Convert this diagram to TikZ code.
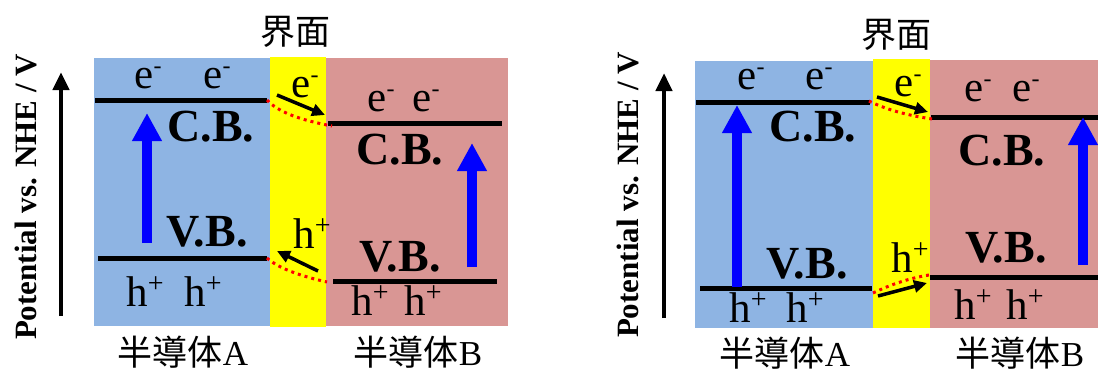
\documentclass[tikz,border=0pt]{standalone}
\usepackage{fontspec}
\setmainfont{Liberation Serif}
\newfontfamily\jpfont{Noto Sans CJK JP}
\usetikzlibrary{arrows.meta}
\definecolor{blueA}{HTML}{8EB4E3}
\definecolor{pinkB}{HTML}{D99694}
\definecolor{yellowI}{HTML}{FFFF00}
\newcommand\elecsym{e\raisebox{14.5pt}{\fontsize{24}{24}\selectfont -}}
\newcommand\holesym{h\raisebox{14pt}{\fontsize{28}{28}\selectfont +}}
\newcommand\semisym[1]{{\jpfont 半導体}#1}
\tikzset{
  band/.style={line width=5pt},
  carrier/.style={inner sep=0pt, font=\fontsize{43}{43}\selectfont},
  bandlbl/.style={inner sep=0pt, font=\fontsize{46}{46}\selectfont\bfseries},
  jplbl/.style={inner sep=0pt, font=\fontsize{35}{35}\selectfont},
  axislbl/.style={inner sep=0pt, rotate=90, font=\fontsize{31}{31}\selectfont\bfseries},
  excite/.style={blue, line width=10pt, -{Triangle[width=28pt,length=28pt]}},
  axis/.style={line width=4.5pt, -{Triangle[width=16pt,length=18pt]}},
  transfer/.style={line width=3.5pt, -{Triangle[width=12pt,length=13pt]}},
  bendline/.style={red, line width=3pt, dash pattern=on 3pt off 4pt},
}
\begin{document}
\begin{tikzpicture}[x=1pt,y=-1pt]
\useasboundingbox (0,0) rectangle (1098,370);
% ================= left diagram =================
\fill[blueA] (94,58) rectangle (270,326);
\fill[pinkB] (326,58) rectangle (508,326);
\fill[yellowI] (270,57) rectangle (326,327);
\node[jplbl] (ifL) at (295,32) {\jpfont 界面};
\node[jplbl] (sAL) at (183,352) {\semisym{A}};
\node[jplbl] (sBL) at (418,352) {\semisym{B}};
\node[axislbl] (potL) at (26,197) {Potential vs. NHE / V};
\coordinate (axL0) at (61,316); \coordinate (axL1) at (61,72);
\draw[axis] (axL0) -- (axL1);
% bands
\coordinate (cbAL0) at (95,100); \coordinate (cbAL1) at (267,100);
\coordinate (vbAL0) at (98,258); \coordinate (vbAL1) at (267,258);
\coordinate (cbBL0) at (328,123); \coordinate (cbBL1) at (502,123);
\coordinate (vbBL0) at (333,281); \coordinate (vbBL1) at (497,281);
\draw[band] (cbAL0) -- (cbAL1);
\draw[band] (vbAL0) -- (vbAL1);
\draw[band] (cbBL0) -- (cbBL1);
\draw[band] (vbBL0) -- (vbBL1);
\node[bandlbl] (cbAl) at (211,127) {C.B.};
\node[bandlbl] (vbAl) at (207,232) {V.B.};
\node[bandlbl] (cbBl) at (400,150) {C.B.};
\node[bandlbl] (vbBl) at (400,257) {V.B.};
\node[carrier] (eL1) at (148,78) {\elecsym};
\node[carrier] (eL2) at (217,78) {\elecsym};
\node[carrier] (eL3) at (381,101) {\elecsym};
\node[carrier] (eL4) at (426,101) {\elecsym};
\node[carrier] (eL5) at (305,87) {\elecsym};
\node[carrier] (hL1) at (145,292) {\holesym};
\node[carrier] (hL2) at (203,292) {\holesym};
\node[carrier] (hL3) at (370,301) {\holesym};
\node[carrier] (hL4) at (423,301) {\holesym};
\node[carrier] (hL5) at (312,234) {\holesym};
\coordinate (exAL0) at (147,243); \coordinate (exAL1) at (147,113);
\coordinate (exBL0) at (472,267); \coordinate (exBL1) at (472,143);
\draw[excite] (exAL0) -- (exAL1);
\draw[excite] (exBL0) -- (exBL1);
\coordinate (bdL1) at (332,126); \coordinate (bdL2) at (327,282);
\draw[bendline] (cbAL1) .. controls (278,112) and (300,120) .. (bdL1);
\draw[bendline] (vbAL1) .. controls (278,268) and (300,276) .. (bdL2);
\coordinate (teL0) at (277,95); \coordinate (teL1) at (325,115);
\coordinate (thL0) at (318,271); \coordinate (thL1) at (277,251);
\draw[transfer] (teL0) -- (teL1);
\draw[transfer] (thL0) -- (thL1);
% ================= right diagram =================
\fill[blueA] (695,61) rectangle (873,328);
\fill[pinkB] (930,60) rectangle (1098,328);
\fill[yellowI] (873,59) rectangle (930,328);
\node[jplbl] (ifR) at (896,35) {\jpfont 界面};
\node[jplbl] (sAR) at (785,353) {\semisym{A}};
\node[jplbl] (sBR) at (1020,353) {\semisym{B}};
\node[axislbl] (potR) at (628,195) {Potential vs. NHE / V};
\coordinate (axR0) at (664,318); \coordinate (axR1) at (664,73);
\draw[axis] (axR0) -- (axR1);
\coordinate (cbAR0) at (696,102); \coordinate (cbAR1) at (870,102);
\coordinate (vbAR0) at (700,288); \coordinate (vbAR1) at (872,288);
\coordinate (cbBR0) at (931,117); \coordinate (cbBR1) at (1098,117);
\coordinate (vbBR0) at (930,277); \coordinate (vbBR1) at (1098,277);
\draw[band] (cbAR0) -- (cbAR1);
\draw[band] (vbAR0) -- (vbAR1);
\draw[band] (cbBR0) -- (cbBR1);
\draw[band] (vbBR0) -- (vbBR1);
\node[bandlbl] (cbAr) at (813,127) {C.B.};
\node[bandlbl] (vbAr) at (807,264) {V.B.};
\node[bandlbl] (cbBr) at (1002,151) {C.B.};
\node[bandlbl] (vbBr) at (1006,248) {V.B.};
\node[carrier] (eR1) at (751,79) {\elecsym};
\node[carrier] (eR2) at (819,79) {\elecsym};
\node[carrier] (eR3) at (978,91) {\elecsym};
\node[carrier] (eR4) at (1026,91) {\elecsym};
\node[carrier] (eR5) at (908,86) {\elecsym};
\node[carrier] (hR1) at (748,308) {\holesym};
\node[carrier] (hR2) at (805,308) {\holesym};
\node[carrier] (hR3) at (973,305) {\holesym};
\node[carrier] (hR4) at (1025,305) {\holesym};
\node[carrier] (hR5) at (910,258) {\holesym};
\coordinate (exAR0) at (737,287); \coordinate (exAR1) at (737,105);
\coordinate (exBR0) at (1083,265); \coordinate (exBR1) at (1083,117);
\draw[excite] (exAR0) -- (exAR1);
\draw[excite] (exBR0) -- (exBR1);
\coordinate (bdR0) at (869,101); \coordinate (bdR1) at (932,119);
\coordinate (bdR2) at (873,293); \coordinate (bdR3) at (929,275);
\draw[bendline] (bdR0) .. controls (885,109) and (905,115) .. (bdR1);
\draw[bendline] (bdR2) .. controls (888,286) and (905,279) .. (bdR3);
\coordinate (teR0) at (877,97); \coordinate (teR1) at (928,112);
\coordinate (thR0) at (878,296); \coordinate (thR1) at (927,283);
\draw[transfer] (teR0) -- (teR1);
\draw[transfer] (thR0) -- (thR1);
\end{tikzpicture}
\end{document}
